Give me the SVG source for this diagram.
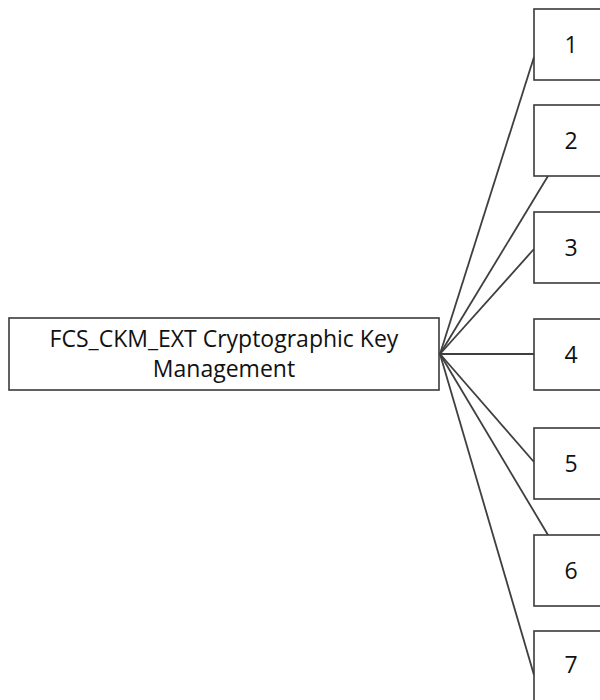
<svg xmlns="http://www.w3.org/2000/svg" width="600" height="700" viewBox="0 0 600 700">
<style>
.box{fill:#fff;stroke:#3a3a3a;stroke-width:1.6}
.lbl{font-family:"Open Sans","Liberation Sans",sans-serif;font-size:23px;fill:#111;text-anchor:middle}
.conn line{stroke:#3f3f3f;stroke-width:1.8}
</style>
<rect width="600" height="700" fill="#fff"/>
<g id="connectors" class="conn">
<line x1="440" y1="354" x2="534" y2="57"/>
<line x1="440" y1="354" x2="548" y2="176"/>
<line x1="440" y1="354" x2="534" y2="249"/>
<line x1="440" y1="354" x2="534" y2="354"/>
<line x1="440" y1="354" x2="534" y2="462"/>
<line x1="440" y1="354" x2="548" y2="535"/>
<line x1="440" y1="354" x2="534" y2="675"/>
</g>
<g id="main">
<rect class="box" x="9" y="318" width="430" height="72"/>
<text class="lbl" x="224" y="347">FCS_CKM_EXT Cryptographic Key</text>
<text class="lbl" x="224" y="377">Management</text>
</g>
<g id="n1"><rect class="box" x="534" y="9" width="76" height="71"/><text class="lbl" x="571" y="53">1</text></g>
<g id="n2"><rect class="box" x="534" y="105" width="76" height="71"/><text class="lbl" x="571" y="149">2</text></g>
<g id="n3"><rect class="box" x="534" y="212" width="76" height="71"/><text class="lbl" x="571" y="256">3</text></g>
<g id="n4"><rect class="box" x="534" y="319" width="76" height="71"/><text class="lbl" x="571" y="363">4</text></g>
<g id="n5"><rect class="box" x="534" y="428" width="76" height="71"/><text class="lbl" x="571" y="472">5</text></g>
<g id="n6"><rect class="box" x="534" y="535" width="76" height="71"/><text class="lbl" x="571" y="579">6</text></g>
<g id="n7"><rect class="box" x="534" y="631" width="76" height="80"/><text class="lbl" x="571" y="673">7</text></g>
</svg>
